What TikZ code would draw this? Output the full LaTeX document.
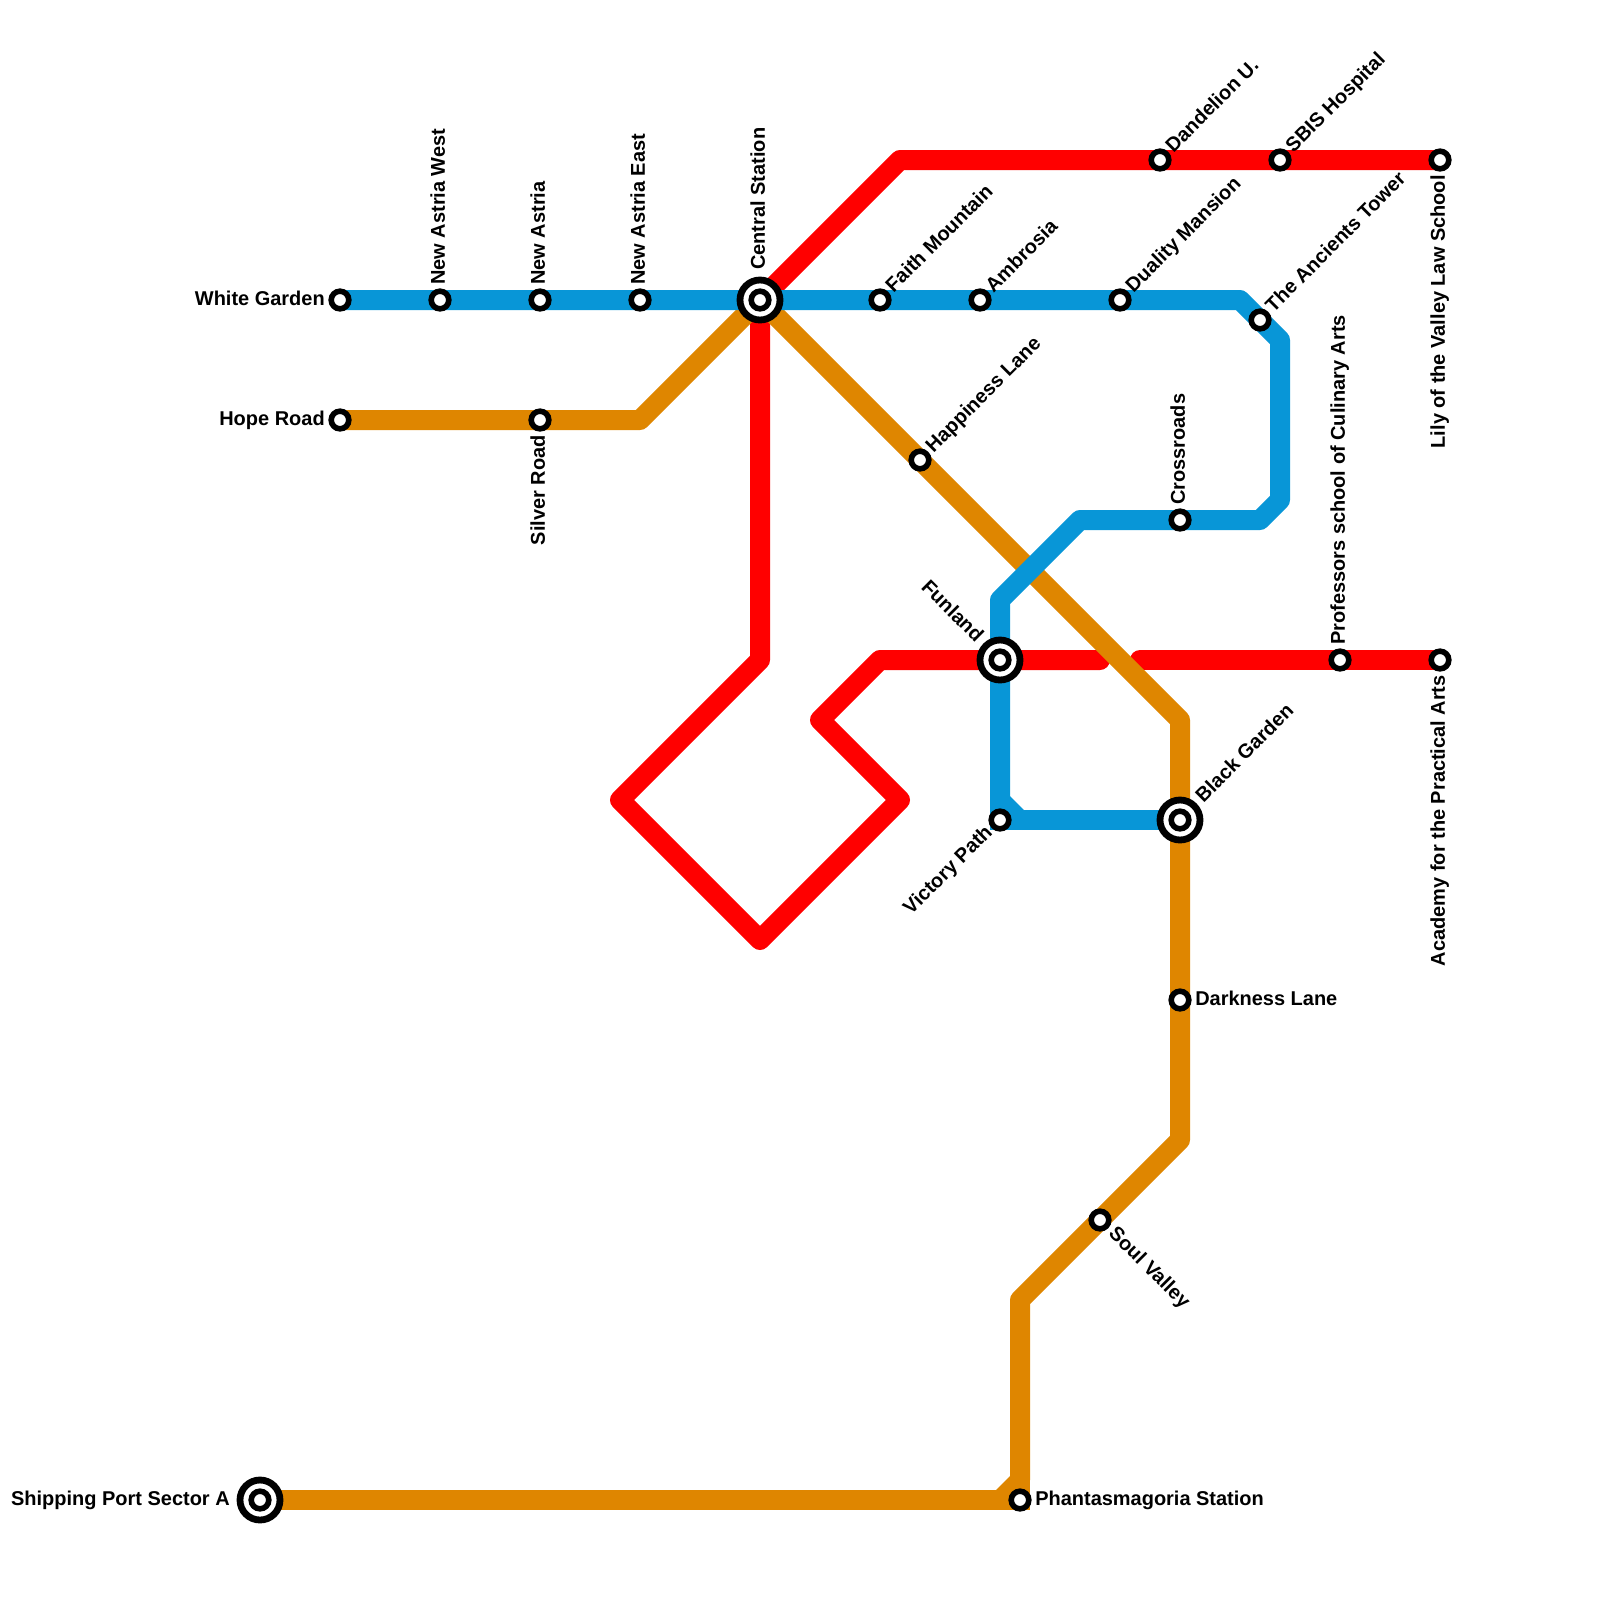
\documentclass[tikz,border=0pt]{standalone}
\usepackage{fontspec}
\setmainfont{Liberation Sans}
\definecolor{lineblue}{HTML}{0896D7}
\definecolor{lineorange}{HTML}{DF8600}
\definecolor{linered}{HTML}{FF0000}
\tikzset{
    metro/.style={line width=0.5cm,line join=round,line cap=round},
    patch/.style={line width=0.5cm,line join=miter,line cap=butt},
    stop/.style={circle,draw=black,fill=white,line width=0.14cm,minimum size=0.44cm,inner sep=0pt},
    hub/.style={circle,draw=black,fill=white,line width=0.17cm,minimum size=1.0cm,inner sep=0pt},
    lbl/.style={font=\bfseries\fontsize{14.2pt}{16pt}\selectfont,inner sep=0pt,text height=1.5ex,text depth=0.2ex},
}
\begin{document}
\begin{tikzpicture}[x=0.025cm,y=-0.025cm]
    \useasboundingbox (0,0) rectangle (1600,1600);

    % stanice
    \coordinate (whitegarden) at (340,300);
    \coordinate (astriawest) at (440,300);
    \coordinate (astria) at (540,300);
    \coordinate (astriaeast) at (640,300);
    \coordinate (central) at (760,300);
    \coordinate (faith) at (880,300);
    \coordinate (ambrosia) at (980,300);
    \coordinate (duality) at (1120,300);
    \coordinate (ancients) at (1260,320);
    \coordinate (crossroads) at (1180,520);
    \coordinate (funland) at (1000,660);
    \coordinate (victory) at (1000,820);
    \coordinate (blackgarden) at (1180,820);
    \coordinate (hoperoad) at (340,420);
    \coordinate (silverroad) at (540,420);
    \coordinate (happiness) at (920,460);
    \coordinate (darkness) at (1180,1000);
    \coordinate (soulvalley) at (1100,1220);
    \coordinate (phantasm) at (1020,1500);
    \coordinate (shipping) at (260,1500);
    \coordinate (dandelion) at (1160,160);
    \coordinate (sbis) at (1280,160);
    \coordinate (lily) at (1440,160);
    \coordinate (professors) at (1340,660);
    \coordinate (academy) at (1440,660);

    % cervena linka
    \draw[metro,linered] (central)--(900,160)--(dandelion)--(sbis)--(lily);
    \draw[metro,linered] (central)--(760,660)--(620,800)--(760,940)--(900,800)--(820,720)--(880,660)--(funland)--(1100,660);
    \draw[metro,linered] (1140,660)--(professors)--(academy);

    % oranzova linka
    \draw[metro,lineorange] (hoperoad)--(silverroad)--(640,420)--(central)--(1180,720)--(blackgarden)--(darkness)--(1180,1140)--(soulvalley)--(1020,1300)--(1020,1480);
    \draw[metro,lineorange] (shipping)--(1000,1500);
    \fill[lineorange] (996,1490)--(1010,1476)--(1010,1490)--cycle;
    \draw[patch,lineorange] (1020,1470)--(phantasm)--(990,1500);

    % modra linka
    \draw[metro,lineblue] (whitegarden)--(astriawest)--(astria)--(astriaeast)--(central)--(faith)--(ambrosia)--(duality)--(1240,300)--(ancients)--(1280,340)--(1280,500)--(1260,520)--(crossroads)--(1080,520)--(1000,600)--(funland)--(1000,800);
    \draw[metro,lineblue] (1020,820)--(blackgarden);
    \draw[patch,lineblue] (1000,790)--(victory)--(1030,820);
    \fill[lineblue] (1010,796)--(1024,810)--(1010,810)--cycle;

    % znacky stanic
    \node[stop] (whitegardenmark) at (whitegarden) {};
    \node[stop] (astriawestmark) at (astriawest) {};
    \node[stop] (astriamark) at (astria) {};
    \node[stop] (astriaeastmark) at (astriaeast) {};
    \node[hub] (centralhub) at (central) {};
    \node[stop] (centralmark) at (central) {};
    \node[stop] (faithmark) at (faith) {};
    \node[stop] (ambrosiamark) at (ambrosia) {};
    \node[stop] (dualitymark) at (duality) {};
    \node[stop] (ancientsmark) at (ancients) {};
    \node[stop] (crossroadsmark) at (crossroads) {};
    \node[hub] (funlandhub) at (funland) {};
    \node[stop] (funlandmark) at (funland) {};
    \node[stop] (victorymark) at (victory) {};
    \node[hub] (blackgardenhub) at (blackgarden) {};
    \node[stop] (blackgardenmark) at (blackgarden) {};
    \node[stop] (hoperoadmark) at (hoperoad) {};
    \node[stop] (silverroadmark) at (silverroad) {};
    \node[stop] (happinessmark) at (happiness) {};
    \node[stop] (darknessmark) at (darkness) {};
    \node[stop] (soulvalleymark) at (soulvalley) {};
    \node[stop] (phantasmmark) at (phantasm) {};
    \node[hub] (shippinghub) at (shipping) {};
    \node[stop] (shippingmark) at (shipping) {};
    \node[stop] (dandelionmark) at (dandelion) {};
    \node[stop] (sbismark) at (sbis) {};
    \node[stop] (lilymark) at (lily) {};
    \node[stop] (professorsmark) at (professors) {};
    \node[stop] (academymark) at (academy) {};

    % popisky
    \node[lbl,anchor=east] (whitegardenlbl) at (325,300.5) {White Garden};
    \node[lbl,anchor=east] (hoperoadlbl) at (325,420.5) {Hope Road};
    \node[lbl,anchor=east] (shippinglbl) at (230,1500.5) {Shipping Port Sector A};
    \node[lbl,anchor=west] (darknesslbl) at (1195,1000.5) {Darkness Lane};
    \node[lbl,anchor=west] (phantasmlbl) at (1035,1500.5) {Phantasmagoria Station};
    \node[lbl,rotate=90,anchor=west] (astriawestlbl) at (440,285) {New Astria West};
    \node[lbl,rotate=90,anchor=west] (astrialbl) at (540,285) {New Astria};
    \node[lbl,rotate=90,anchor=west] (astriaeastlbl) at (640,285) {New Astria East};
    \node[lbl,rotate=90,anchor=west] (centrallbl) at (760,270) {Central Station};
    \node[lbl,rotate=90,anchor=west] (crossroadslbl) at (1180,505) {Crossroads};
    \node[lbl,rotate=90,anchor=west] (professorslbl) at (1340,645) {Professors school of Culinary Arts};
    \node[lbl,rotate=90,anchor=east] (silverroadlbl) at (540,435) {Silver Road};
    \node[lbl,rotate=90,anchor=east] (lilylbl) at (1440,175) {Lily of the Valley Law School};
    \node[lbl,rotate=90,anchor=east] (academylbl) at (1440,675) {Academy for the Practical Arts};
    \node[lbl,rotate=45,anchor=west] (faithlbl) at (890,290) {Faith Mountain};
    \node[lbl,rotate=45,anchor=west] (ambrosialbl) at (990,290) {Ambrosia};
    \node[lbl,rotate=45,anchor=west] (dualitylbl) at (1130,290) {Duality Mansion};
    \node[lbl,rotate=45,anchor=west] (ancientslbl) at (1270,310) {The Ancients Tower};
    \node[lbl,rotate=45,anchor=west] (happinesslbl) at (930,450) {Happiness Lane};
    \node[lbl,rotate=45,anchor=west] (dandelionlbl) at (1170,150) {Dandelion U.};
    \node[lbl,rotate=45,anchor=west] (sbislbl) at (1290,150) {SBIS Hospital};
    \node[lbl,rotate=45,anchor=west] (blackgardenlbl) at (1200,800) {Black Garden};
    \node[lbl,rotate=45,anchor=east] (victorylbl) at (990,830) {Victory Path};
    \node[lbl,rotate=-45,anchor=east] (funlandlbl) at (979,640) {Funland};
    \node[lbl,rotate=-45,anchor=west] (soulvalleylbl) at (1111,1231) {Soul Valley};
\end{tikzpicture}
\end{document}
